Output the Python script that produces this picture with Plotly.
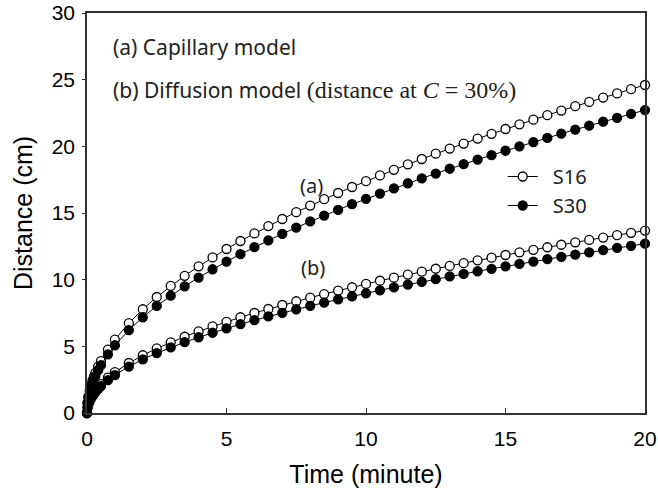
import plotly.graph_objects as go

time_min = [0, 0.02, 0.05, 0.1, 0.15, 0.2, 0.25, 0.3, 0.4, 0.5, 0.75, 1.0,
            1.5, 2.0, 2.5, 3.0, 3.5, 4.0, 4.5, 5.0, 5.5, 6.0, 6.5, 7.0, 7.5,
            8.0, 8.5, 9.0, 9.5, 10.0, 10.5, 11.0, 11.5, 12.0, 12.5, 13.0, 13.5,
            14.0, 14.5, 15.0, 15.5, 16.0, 16.5, 17.0, 17.5, 18.0, 18.5, 19.0,
            19.5, 20.0]

cap_s16 = [0, 0.78, 1.23, 1.74, 2.13, 2.46, 2.75, 3.01, 3.48, 3.89, 4.76, 5.50,
           6.74, 7.78, 8.70, 9.53, 10.29, 11.00, 11.67, 12.30, 12.90, 13.47, 14.02,
           14.55, 15.06, 15.56, 16.04, 16.50, 16.95, 17.39, 17.82, 18.24, 18.65,
           19.05, 19.45, 19.83, 20.21, 20.58, 20.94, 21.30, 21.65, 22.00, 22.34,
           22.68, 23.01, 23.33, 23.66, 23.97, 24.29, 24.60]

cap_s30 = [0, 0.72, 1.14, 1.61, 1.97, 2.27, 2.54, 2.78, 3.21, 3.59, 4.40, 5.08,
           6.22, 7.18, 8.03, 8.80, 9.50, 10.16, 10.78, 11.36, 11.91, 12.44, 12.95,
           13.44, 13.91, 14.37, 14.81, 15.24, 15.66, 16.06, 16.46, 16.85, 17.23,
           17.60, 17.96, 18.32, 18.66, 19.01, 19.34, 19.67, 20.00, 20.32, 20.63,
           20.95, 21.25, 21.55, 21.85, 22.14, 22.43, 22.72]

dif_s16 = [0, 0.43, 0.68, 0.97, 1.19, 1.37, 1.53, 1.68, 1.94, 2.16, 2.65, 3.06,
           3.75, 4.33, 4.84, 5.30, 5.72, 6.12, 6.49, 6.84, 7.18, 7.50, 7.80, 8.10,
           8.38, 8.65, 8.92, 9.18, 9.43, 9.68, 9.92, 10.15, 10.38, 10.60, 10.82,
           11.03, 11.24, 11.45, 11.65, 11.85, 12.05, 12.24, 12.43, 12.62, 12.80,
           12.98, 13.16, 13.34, 13.51, 13.68]

dif_s30 = [0, 0.40, 0.64, 0.90, 1.10, 1.27, 1.42, 1.56, 1.80, 2.01, 2.46, 2.84,
           3.48, 4.02, 4.49, 4.92, 5.31, 5.68, 6.02, 6.35, 6.66, 6.96, 7.24, 7.51,
           7.78, 8.03, 8.28, 8.52, 8.75, 8.98, 9.20, 9.42, 9.63, 9.84, 10.04,
           10.24, 10.43, 10.63, 10.81, 11.00, 11.18, 11.36, 11.54, 11.71, 11.88,
           12.05, 12.22, 12.38, 12.54, 12.70]

x_ticks = [0, 5, 10, 15, 20]
y_ticks = [0, 5, 10, 15, 20, 25, 30]

open_marker = dict(symbol="circle", size=9, color="white",
                   line=dict(color="black", width=1.3))
filled_marker = dict(symbol="circle", size=9, color="black",
                     line=dict(color="black", width=1.3))
line_style = dict(color="black", width=1)

fig = go.Figure()
fig.add_trace(go.Scatter(x=time_min, y=cap_s16, mode="lines+markers", name="\u2002S16",
                         marker=open_marker, line=line_style, legendgroup="S16",
                         cliponaxis=False))
fig.add_trace(go.Scatter(x=time_min, y=dif_s16, mode="lines+markers", name="\u2002S16",
                         marker=open_marker, line=line_style, legendgroup="S16",
                         showlegend=False, cliponaxis=False))
fig.add_trace(go.Scatter(x=time_min, y=cap_s30, mode="lines+markers", name="\u2002S30",
                         marker=filled_marker, line=line_style, legendgroup="S30",
                         cliponaxis=False))
fig.add_trace(go.Scatter(x=time_min, y=dif_s30, mode="lines+markers", name="\u2002S30",
                         marker=filled_marker, line=line_style, legendgroup="S30",
                         showlegend=False, cliponaxis=False))

tick_font = dict(family="Liberation Sans, Arial", size=21, color="black")
title_font = dict(family="Liberation Sans, Arial", size=25, color="black")

fig.update_xaxes(range=[0, 20], tickvals=x_ticks, showline=True, linecolor="#333333",
                 linewidth=1.5, mirror=True, showgrid=False, zeroline=False,
                 ticks="inside", ticklen=5, tickcolor="#333333", tickfont=tick_font,
                 automargin=False, ticklabelstandoff=6, ticklabeloverflow="allow",
                 title=dict(text="Time (minute)", font=title_font, standoff=17))
fig.update_yaxes(range=[0, 30], tickvals=y_ticks, showline=True, linecolor="#333333",
                 linewidth=1.5, mirror=True, showgrid=False, zeroline=False,
                 ticks="outside", ticklen=3, tickcolor="#333333", tickfont=tick_font,
                 automargin=False, ticklabelstandoff=3, ticklabeloverflow="allow",
                 title=dict(text="Distance (cm)", font=title_font, standoff=12))

ann_font = dict(family="Noto Sans, Open Sans, sans-serif", size=21, color="#222222")
fig.add_annotation(x=0.86, y=27.45, xref="x", yref="y", text="(a) Capillary model",
                   showarrow=False, xanchor="left", yanchor="middle", font=ann_font)
fig.add_annotation(x=0.86, y=24.2, xref="x", yref="y",
                   text="(b) Diffusion model <span style='font-family:Liberation Serif, DejaVu Serif, serif;font-size:24px'>(distance at <i>C</i> = 30%)</span>",
                   showarrow=False, xanchor="left", yanchor="middle", font=ann_font)
fig.add_annotation(x=8.05, y=17.1, xref="x", yref="y", text="(a)",
                   showarrow=False, font=dict(family="Noto Sans, sans-serif", size=20, color="#222222"))
fig.add_annotation(x=8.1, y=10.9, xref="x", yref="y", text="(b)",
                   showarrow=False, font=dict(family="Noto Sans, sans-serif", size=20, color="#222222"))

fig.update_layout(
    width=658, height=495,
    margin=dict(l=87, r=13, t=13, b=82),
    paper_bgcolor="white", plot_bgcolor="white",
    showlegend=True,
    legend=dict(x=0.745, y=0.64, xanchor="left", yanchor="top",
                bgcolor="rgba(0,0,0,0)", borderwidth=0, itemwidth=30,
                font=dict(family="Noto Sans, sans-serif", size=20, color="#222222"),
                tracegroupgap=0),
)

# remove the browser's default 8px body margin so the figure fills the window exactly
fig.write_html("out.html", config={"displayModeBar": False},
               post_script="document.body.style.margin='0';document.body.style.overflow='hidden';")
